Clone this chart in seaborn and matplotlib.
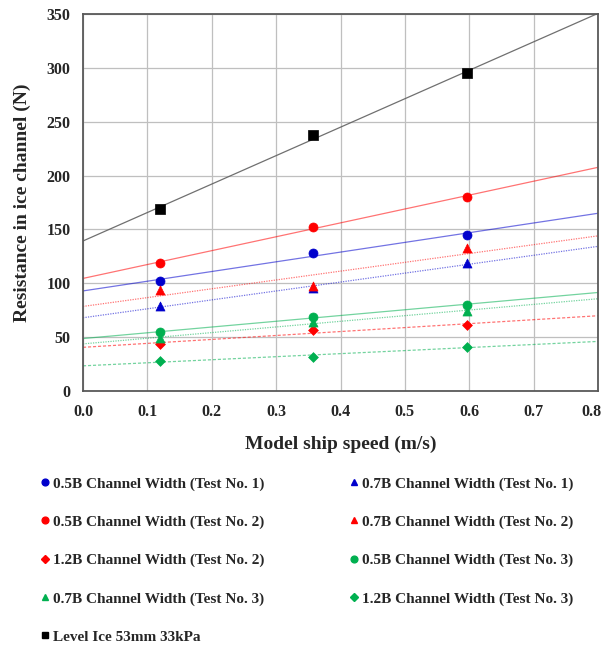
import numpy as np
import pandas as pd
import matplotlib
matplotlib.use("Agg")
import matplotlib.pyplot as plt
import matplotlib.transforms as mtransforms
import seaborn as sns
from matplotlib.lines import Line2D

sns.set_style("white")
plt.rcParams["font.family"] = ["Liberation Serif", "DejaVu Serif"]
plt.rcParams["font.weight"] = "bold"

# Model ship speeds (m/s)
speed = [0.12, 0.357, 0.597]

# Resistance in ice channel (N) per test series
r_05b_t1 = [102, 128.5, 145]
r_07b_t1 = [79, 95.5, 118.5]
r_05b_t2 = [119, 152.5, 180.5]
r_07b_t2 = [93.5, 97.5, 132.5]
r_12b_t2 = [43.5, 56.5, 61]
r_05b_t3 = [54.5, 69, 80]
r_07b_t3 = [49, 64.5, 74]
r_12b_t3 = [27.5, 32, 41]
r_level = [169, 237.5, 295]

labels = [
    "0.5B Channel Width (Test No. 1)",
    "0.7B Channel Width (Test No. 1)",
    "0.5B Channel Width (Test No. 2)",
    "0.7B Channel Width (Test No. 2)",
    "1.2B Channel Width (Test No. 2)",
    "0.5B Channel Width (Test No. 3)",
    "0.7B Channel Width (Test No. 3)",
    "1.2B Channel Width (Test No. 3)",
    "Level Ice 53mm 33kPa",
]
values = [r_05b_t1, r_07b_t1, r_05b_t2, r_07b_t2, r_12b_t2,
          r_05b_t3, r_07b_t3, r_12b_t3, r_level]

BLUE, RED, GREEN, BLACK = "#0000CC", "#FF0000", "#00B050", "#000000"
styles = [
    dict(color=BLUE, marker="o", ls="-", ms=6.5),
    dict(color=BLUE, marker="^", ls=(0, (1, 1)), ms=6.5),
    dict(color=RED, marker="o", ls="-", ms=6.5),
    dict(color=RED, marker="^", ls=(0, (1, 1)), ms=6.5),
    dict(color=RED, marker="D", ls=(0, (2.5, 1.5)), ms=5),
    dict(color=GREEN, marker="o", ls="-", ms=6.5),
    dict(color=GREEN, marker="^", ls=(0, (1, 1)), ms=6.5),
    dict(color=GREEN, marker="D", ls=(0, (2.5, 1.5)), ms=5),
    dict(color=BLACK, marker="s", ls="-", ms=6.5),
]

fig = plt.figure(figsize=(6.05, 6.45), dpi=100)
ax = fig.add_axes([83 / 605, 1 - 391 / 645, (598 - 83) / 605, (391 - 14) / 645])
ax.set_xlim(0, 0.8)
ax.set_ylim(0, 350)

handles = []
for lab, vals, st in zip(labels, values, styles):
    df = pd.DataFrame({"speed": speed, "res": vals})
    line_color = "#606060" if st["color"] == BLACK else st["color"]
    sns.regplot(data=df, x="speed", y="res", ax=ax, scatter=False, ci=None,
                truncate=False,
                line_kws=dict(color=line_color, lw=0.9, ls=st["ls"],
                              alpha=0.55 if st["color"] != BLACK else 0.9))
    sns.scatterplot(data=df, x="speed", y="res", ax=ax, color=st["color"],
                    marker=st["marker"], s=st["ms"] ** 2, edgecolor=st["color"],
                    linewidth=0.5, zorder=5)
    handles.append(Line2D([], [], color=st["color"], marker=st["marker"],
                          ls="none", ms=st["ms"] * 0.75, label=lab))

ax.set_xlim(0, 0.8)
ax.set_ylim(0, 350)
ax.set_xticks(np.arange(0, 0.81, 0.1))
ax.set_yticks(np.arange(0, 351, 50))
ax.set_xticklabels([f"{v:.1f}" for v in np.arange(0, 0.81, 0.1)])
ax.grid(True, color="#BFBFBF", lw=0.9)
ax.set_axisbelow(True)
for sp in ax.spines.values():
    sp.set_color("#595959")
    sp.set_linewidth(1.3)
ax.tick_params(axis="both", direction="out", length=4, width=1,
               color="#595959", labelsize=11.5, pad=5)
for t in ax.get_xticklabels() + ax.get_yticklabels():
    t.set_fontweight("bold")
# keep the last x tick label inside the canvas
last = ax.get_xticklabels()[-1]
last.set_transform(last.get_transform() +
                   mtransforms.ScaledTranslation(-7 / 100, 0, fig.dpi_scale_trans))

ax.set_xlabel("Model ship speed (m/s)", fontsize=14, fontweight="bold", labelpad=12)
ax.set_ylabel("Resistance in ice channel (N)", fontsize=14, fontweight="bold", labelpad=11)

# Column-major order so that the legend reads row by row
order = [0, 2, 4, 6, 8, 1, 3, 5, 7]
fig.legend([handles[i] for i in order], [labels[i] for i in order],
           loc="upper left", bbox_to_anchor=(27 / 605, 1 - 463 / 645),
           ncol=2, frameon=False, handlelength=0.5,
           handletextpad=0.3, columnspacing=5.6, labelspacing=1.6,
           prop=dict(weight="bold", size=11))

fig.savefig("out.png", dpi=100)
